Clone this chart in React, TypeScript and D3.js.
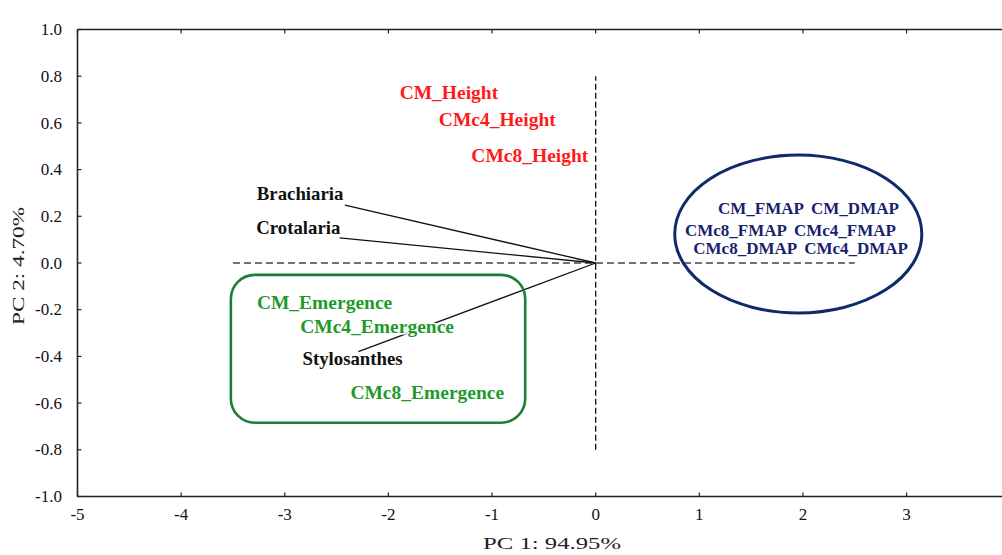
import React from 'react';
import * as d3 from 'd3';

// PCA biplot: PC1 vs PC2, scores

const xTicks = [-5, -4, -3, -2, -1, 0, 1, 2, 3, 4];
const yTicks = [-1.0, -0.8, -0.6, -0.4, -0.2, 0.0, 0.2, 0.4, 0.6, 0.8, 1.0];

// loading vectors (species)
const speciesNames = ['Brachiaria', 'Crotalaria', 'Stylosanthes'];
const speciesPC1 = [-2.42, -2.47, -2.29];
const speciesPC2 = [0.248, 0.108, -0.38];
const speciesLabelPC1 = [-2.852, -2.869, -2.346];
const speciesLabelPC2 = [0.297, 0.151, -0.411];

const heightNames = ['CM_Height', 'CMc4_Height', 'CMc8_Height'];
const heightPC1 = [-1.416, -0.949, -0.635];
const heightPC2 = [0.728, 0.613, 0.458];

const emergenceNames = ['CM_Emergence', 'CMc4_Emergence', 'CMc8_Emergence'];
const emergencePC1 = [-2.616, -2.109, -1.625];
const emergencePC2 = [-0.171, -0.273, -0.557];

const mapNames = ['CM_FMAP', 'CM_DMAP', 'CMc8_FMAP', 'CMc4_FMAP', 'CMc8_DMAP', 'CMc4_DMAP'];
const mapPC1 = [1.595, 2.502, 1.354, 2.405, 1.443, 2.513];
const mapPC2 = [0.234, 0.234, 0.138, 0.138, 0.063, 0.063];

// group outlines
const emergenceBoxX = [-3.52, -0.68];
const emergenceBoxY = [-0.684, -0.051];
const mapEllipseCenter = [1.955, 0.124];
const mapEllipseRadius = [1.192, 0.338];

// reference lines
const hLineX = [-3.5, 2.5];
const vLineY = [-0.8, 0.8];

const xTitle = 'PC 1: 94.95%';
const yTitle = 'PC 2: 4.70%';

export default function App() {
    const width = 1002, height = 555;
    const font = '"Liberation Serif", "Times New Roman", serif';

    const x = d3.scaleLinear().domain([-5, 4]).range([77.5, 1010.2]);
    const y = d3.scaleLinear().domain([-1, 1]).range([496.5, 29.5]);
    const rightEdge = x(4.5);

    const label = (names, pc1, pc2, fill, size, key) =>
        names.map((n, i) => (
            <text key={key + i}
                  x={x(pc1[i])}
                  y={y(pc2[i])}
                  dy="0.33em"
                  textAnchor="middle"
                  fontFamily={font}
                  fontWeight="bold"
                  fontSize={size}
                  fill={fill}
                  stroke="white"
                  strokeWidth={3}
                  paintOrder="stroke">
                {n}
            </text>
        ));

    const box = { x0: x(emergenceBoxX[0]), x1: x(emergenceBoxX[1]), y0: y(emergenceBoxY[1]), y1: y(emergenceBoxY[0]) };

    return (
        <svg width={width} height={height} style={{ position: 'absolute', left: 0, top: 0, background: 'white' }}>
            {/* frame */}
            <line x1={x(-5)} x2={rightEdge} y1={y(1)} y2={y(1)} stroke="#222" strokeWidth={1.6} />
            <line x1={x(-5)} x2={rightEdge} y1={y(-1)} y2={y(-1)} stroke="#222" strokeWidth={1.6} />
            <line x1={x(-5)} x2={x(-5)} y1={y(1)} y2={y(-1)} stroke="#222" strokeWidth={1.6} />

            {yTicks.map(t => (
                <g key={'y' + t}>
                    <line x1={x(-5)} x2={x(-5) + 4} y1={y(t)} y2={y(t)} stroke="#222" strokeWidth={1.2} />
                    <text x={62} y={y(t)} dy="0.33em" textAnchor="end" fontFamily={font} fontSize={17} fill="#111">
                        {d3.format('.1f')(t).replace('−', '-')}
                    </text>
                </g>
            ))}
            {xTicks.map(t => (
                <g key={'x' + t}>
                    <line x1={x(t)} x2={x(t)} y1={y(-1)} y2={y(-1) - 4} stroke="#222" strokeWidth={1.2} />
                    <line x1={x(t)} x2={x(t)} y1={y(1)} y2={y(1) + 4} stroke="#222" strokeWidth={1.2} />
                    <text x={x(t)} y={520} textAnchor="middle" fontFamily={font} fontSize={17} fill="#111">
                        {String(t)}
                    </text>
                </g>
            ))}

            <text x={552} y={548.5} textAnchor="middle" fontFamily={font} fontSize={17} fill="#222"
                  textLength={138} lengthAdjust="spacingAndGlyphs">{xTitle}</text>
            <text transform={`translate(24, 266) rotate(-90)`} textAnchor="middle" fontFamily={font} fontSize={17} fill="#222"
                  textLength={118} lengthAdjust="spacingAndGlyphs">{yTitle}</text>

            {/* reference lines through origin */}
            <line x1={x(hLineX[0])} x2={x(hLineX[1])} y1={y(0)} y2={y(0)} stroke="#444" strokeWidth={1.5} strokeDasharray="7,4" />
            <line x1={x(0)} x2={x(0)} y1={y(vLineY[0])} y2={y(vLineY[1])} stroke="#111" strokeWidth={1.3} strokeDasharray="6,3" />

            {/* loading vectors */}
            {speciesNames.map((n, i) => (
                <line key={'v' + n} x1={x(0)} y1={y(0)} x2={x(speciesPC1[i])} y2={y(speciesPC2[i])} stroke="#111" strokeWidth={1.3} />
            ))}

            {/* group outlines */}
            <rect x={box.x0} y={box.y0} width={box.x1 - box.x0} height={box.y1 - box.y0} rx={24} ry={24}
                  fill="none" stroke="#1b8035" strokeWidth={2.6} />
            <ellipse cx={x(mapEllipseCenter[0])} cy={y(mapEllipseCenter[1])}
                     rx={x(mapEllipseRadius[0]) - x(0)} ry={y(0) - y(mapEllipseRadius[1])}
                     fill="none" stroke="#0e2a68" strokeWidth={3} />

            {label(heightNames, heightPC1, heightPC2, '#ff1a1a', 19.5, 'h')}
            {label(emergenceNames, emergencePC1, emergencePC2, '#1e9a2a', 19.5, 'e')}
            {label(speciesNames, speciesLabelPC1, speciesLabelPC2, '#111', 18.8, 's')}
            {label(mapNames, mapPC1, mapPC2, '#1a1f6e', 17, 'm')}
        </svg>
    );
}
